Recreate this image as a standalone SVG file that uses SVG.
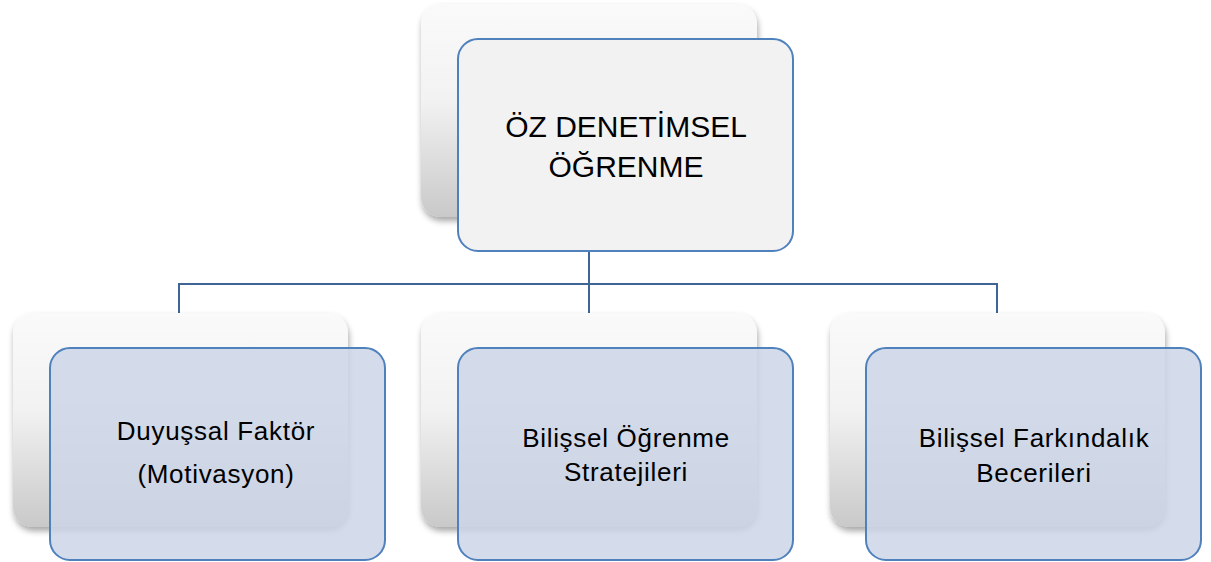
<svg xmlns="http://www.w3.org/2000/svg" width="1211" height="562" viewBox="0 0 1211 562">
<defs>
<linearGradient id="backGrad" x1="0" y1="0" x2="0" y2="1">
<stop offset="0" stop-color="#fafafa"/>
<stop offset="0.45" stop-color="#f2f2f2"/>
<stop offset="1" stop-color="#c9c9c9"/>
</linearGradient>
<filter id="shadow" x="-10%" y="-10%" width="125%" height="125%">
<feGaussianBlur in="SourceAlpha" stdDeviation="3"/>
<feOffset dx="1" dy="4" result="b"/>
<feComponentTransfer><feFuncA type="linear" slope="0.35"/></feComponentTransfer>
<feMerge><feMergeNode/><feMergeNode in="SourceGraphic"/></feMerge>
</filter>
</defs>
<style>
.back{fill:url(#backGrad);filter:url(#shadow)}
.top{fill:#f2f2f2;stroke:#4f81bd;stroke-width:2}
.child{fill:#cdd5e6;fill-opacity:0.85;stroke:#4f81bd;stroke-width:2}
.conn{fill:none;stroke:#3f6596;stroke-width:2}
text{font-family:"Liberation Sans",Arial,sans-serif;fill:#000;text-anchor:middle}
.t1{font-size:30px}
.t2{font-size:26px;letter-spacing:0.7px}
</style>
<g id="connectors">
<path class="conn" d="M589 251 V284 M179 313 V284 H997 V313 M589 284 V313"/>
</g>
<g id="root">
<rect class="back" x="421" y="4" width="336" height="213" rx="20"/>
<rect class="top" x="458" y="39" width="335" height="212" rx="20"/>
<text class="t1" x="626" y="137">ÖZ DENETİMSEL</text>
<text class="t1" x="626" y="177">ÖĞRENME</text>
</g>
<g id="node-duyussal">
<rect class="back" x="13" y="313" width="335" height="214" rx="20"/>
<rect class="child" x="50" y="348" width="335" height="212" rx="20"/>
<text class="t2" x="216" y="440">Duyuşsal Faktör</text>
<text class="t2" x="216" y="483">(Motivasyon)</text>
</g>
<g id="node-bilissel-ogrenme">
<rect class="back" x="421" y="313" width="336" height="214" rx="20"/>
<rect class="child" x="458" y="348" width="335" height="212" rx="20"/>
<text class="t2" x="626" y="447">Bilişsel Öğrenme</text>
<text class="t2" x="626" y="481">Stratejileri</text>
</g>
<g id="node-bilissel-farkindalik">
<rect class="back" x="830" y="313" width="335" height="214" rx="20"/>
<rect class="child" x="866" y="348" width="335" height="212" rx="20"/>
<text class="t2" x="1034" y="447">Bilişsel Farkındalık</text>
<text class="t2" x="1034" y="482">Becerileri</text>
</g>
</svg>
